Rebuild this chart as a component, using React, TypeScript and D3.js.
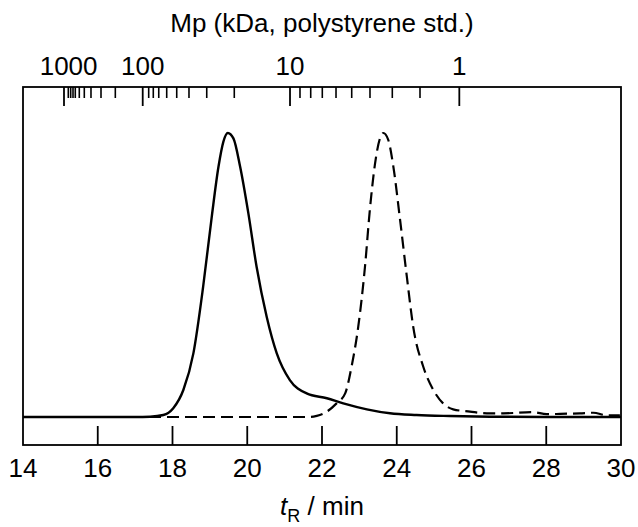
import React from "react";
import * as d3 from "d3";

// Solid trace (tR in min, normalized intensity)
const solidT = [14, 16, 17.0, 17.4, 17.754, 18.02, 18.29, 18.56, 18.82, 19.05, 19.23, 19.36, 19.48, 19.63, 19.81, 20.03, 20.25, 20.52, 20.79, 21.14, 21.59, 22.13, 22.57, 23.2, 23.82, 24.53, 25.42, 26.5, 28, 30];
const solidV = [0, 0, 0, 0.001, 0.007, 0.031, 0.095, 0.225, 0.459, 0.705, 0.881, 0.969, 1.0, 0.981, 0.881, 0.717, 0.529, 0.353, 0.224, 0.13, 0.083, 0.066, 0.048, 0.027, 0.013, 0.007, 0.0035, 0.001, 0, 0];

// Dashed trace
const dashT = [14, 18, 21.0, 21.68, 21.86, 22.13, 22.39, 22.62, 22.79, 22.97, 23.15, 23.28, 23.42, 23.55, 23.64, 23.77, 23.91, 24.09, 24.27, 24.44, 24.71, 24.98, 25.24, 25.51, 25.96, 26.41, 26.85, 27.65, 28.01, 28.37, 28.9, 29.26, 29.62, 29.97];
const dashV = [0, 0, 0, 0, 0.004, 0.019, 0.048, 0.083, 0.177, 0.318, 0.529, 0.729, 0.893, 0.981, 1.0, 0.977, 0.881, 0.693, 0.494, 0.318, 0.177, 0.095, 0.048, 0.027, 0.019, 0.013, 0.013, 0.017, 0.01, 0.011, 0.013, 0.015, 0.006, 0.006];

// Bottom axis ticks
const bottomTicks = [14, 16, 18, 20, 22, 24, 26, 28, 30];

// Top axis: Mp calibration (kDa) -> elution time
const topMajorLabels = ["1000", "100", "10", "1"];
const topMajorTimes = [15.097, 17.203, 21.144, 25.674];
const topLabelTimes = [15.22, 17.203, 21.144, 25.674];
const topMinorTimes = [
  15.212, 15.276, 15.338, 15.399, 15.506, 15.64, 15.819, 16.087, 16.47,
  17.363, 17.486, 17.632, 17.845, 18.113, 18.441, 18.916, 19.653,
  21.411, 21.698, 22.008, 22.375, 22.795, 23.284, 23.881, 24.622,
];

const W = 638;
const H = 527;
const L = 23, R = 621, T = 87, B = 445;
const FONT = "'Liberation Sans', Arial, sans-serif";

export default function App() {
  const x = d3.scaleLinear().domain([14, 30]).range([L, R]);
  const y = d3.scaleLinear().domain([-0.0986, 1.162]).range([B, T]);
  const line = d3
    .line<[number, number]>()
    .x((d) => x(d[0]))
    .y((d) => y(d[1]))
    .curve(d3.curveMonotoneX);
  const solid = line(solidT.map((t, i) => [t, solidV[i]] as [number, number])) || "";
  const dash = line(dashT.map((t, i) => [t, dashV[i]] as [number, number])) || "";

  return (
    <svg
      width={W}
      height={H}
      style={{ position: "absolute", left: 0, top: 0, background: "#fff" }}
      fontFamily={FONT}
    >
      <rect x={0} y={0} width={W} height={H} fill="#fff" />
      <defs>
        <clipPath id="plot">
          <rect x={L} y={T} width={R - L} height={B - T} />
        </clipPath>
      </defs>
      <g clipPath="url(#plot)">
        <path d={dash} fill="none" stroke="#000" strokeWidth={2.2} strokeDasharray="12,6" />
        <path d={solid} fill="none" stroke="#000" strokeWidth={2.4} />
      </g>
      {/* bottom ticks */}
      {bottomTicks.slice(1, -1).map((t) => (
        <line key={"bt" + t} x1={x(t)} x2={x(t)} y1={B} y2={B - 19} stroke="#000" strokeWidth={1.8} />
      ))}
      {bottomTicks.map((t) => (
        <text key={"bl" + t} x={x(t)} y={477} fontSize={26} textAnchor="middle" fill="#000">
          {t}
        </text>
      ))}
      {/* top ticks */}
      {topMajorTimes.map((t, i) => (
        <line key={"tM" + i} x1={x(t)} x2={x(t)} y1={T} y2={T + 19} stroke="#000" strokeWidth={1.8} />
      ))}
      {topMinorTimes.map((t, i) => (
        <line key={"tm" + i} x1={x(t)} x2={x(t)} y1={T} y2={T + 11} stroke="#000" strokeWidth={1.6} />
      ))}
      {topLabelTimes.map((t, i) => (
        <text key={"tl" + i} x={x(t)} y={75} fontSize={26} textAnchor="middle" fill="#000">
          {topMajorLabels[i]}
        </text>
      ))}
      <rect x={L} y={T} width={R - L} height={B - T} fill="none" stroke="#000" strokeWidth={1.8} />
      <text x={(L + R) / 2} y={32} fontSize={26} textAnchor="middle" fill="#000">
        Mp (kDa, polystyrene std.)
      </text>
      <text x={(L + R) / 2} y={515} fontSize={26} textAnchor="middle" fill="#000">
        <tspan fontStyle="italic">t</tspan>
        <tspan fontSize={18} dy={7}>R</tspan>
        <tspan dy={-7}> / min</tspan>
      </text>
    </svg>
  );
}
